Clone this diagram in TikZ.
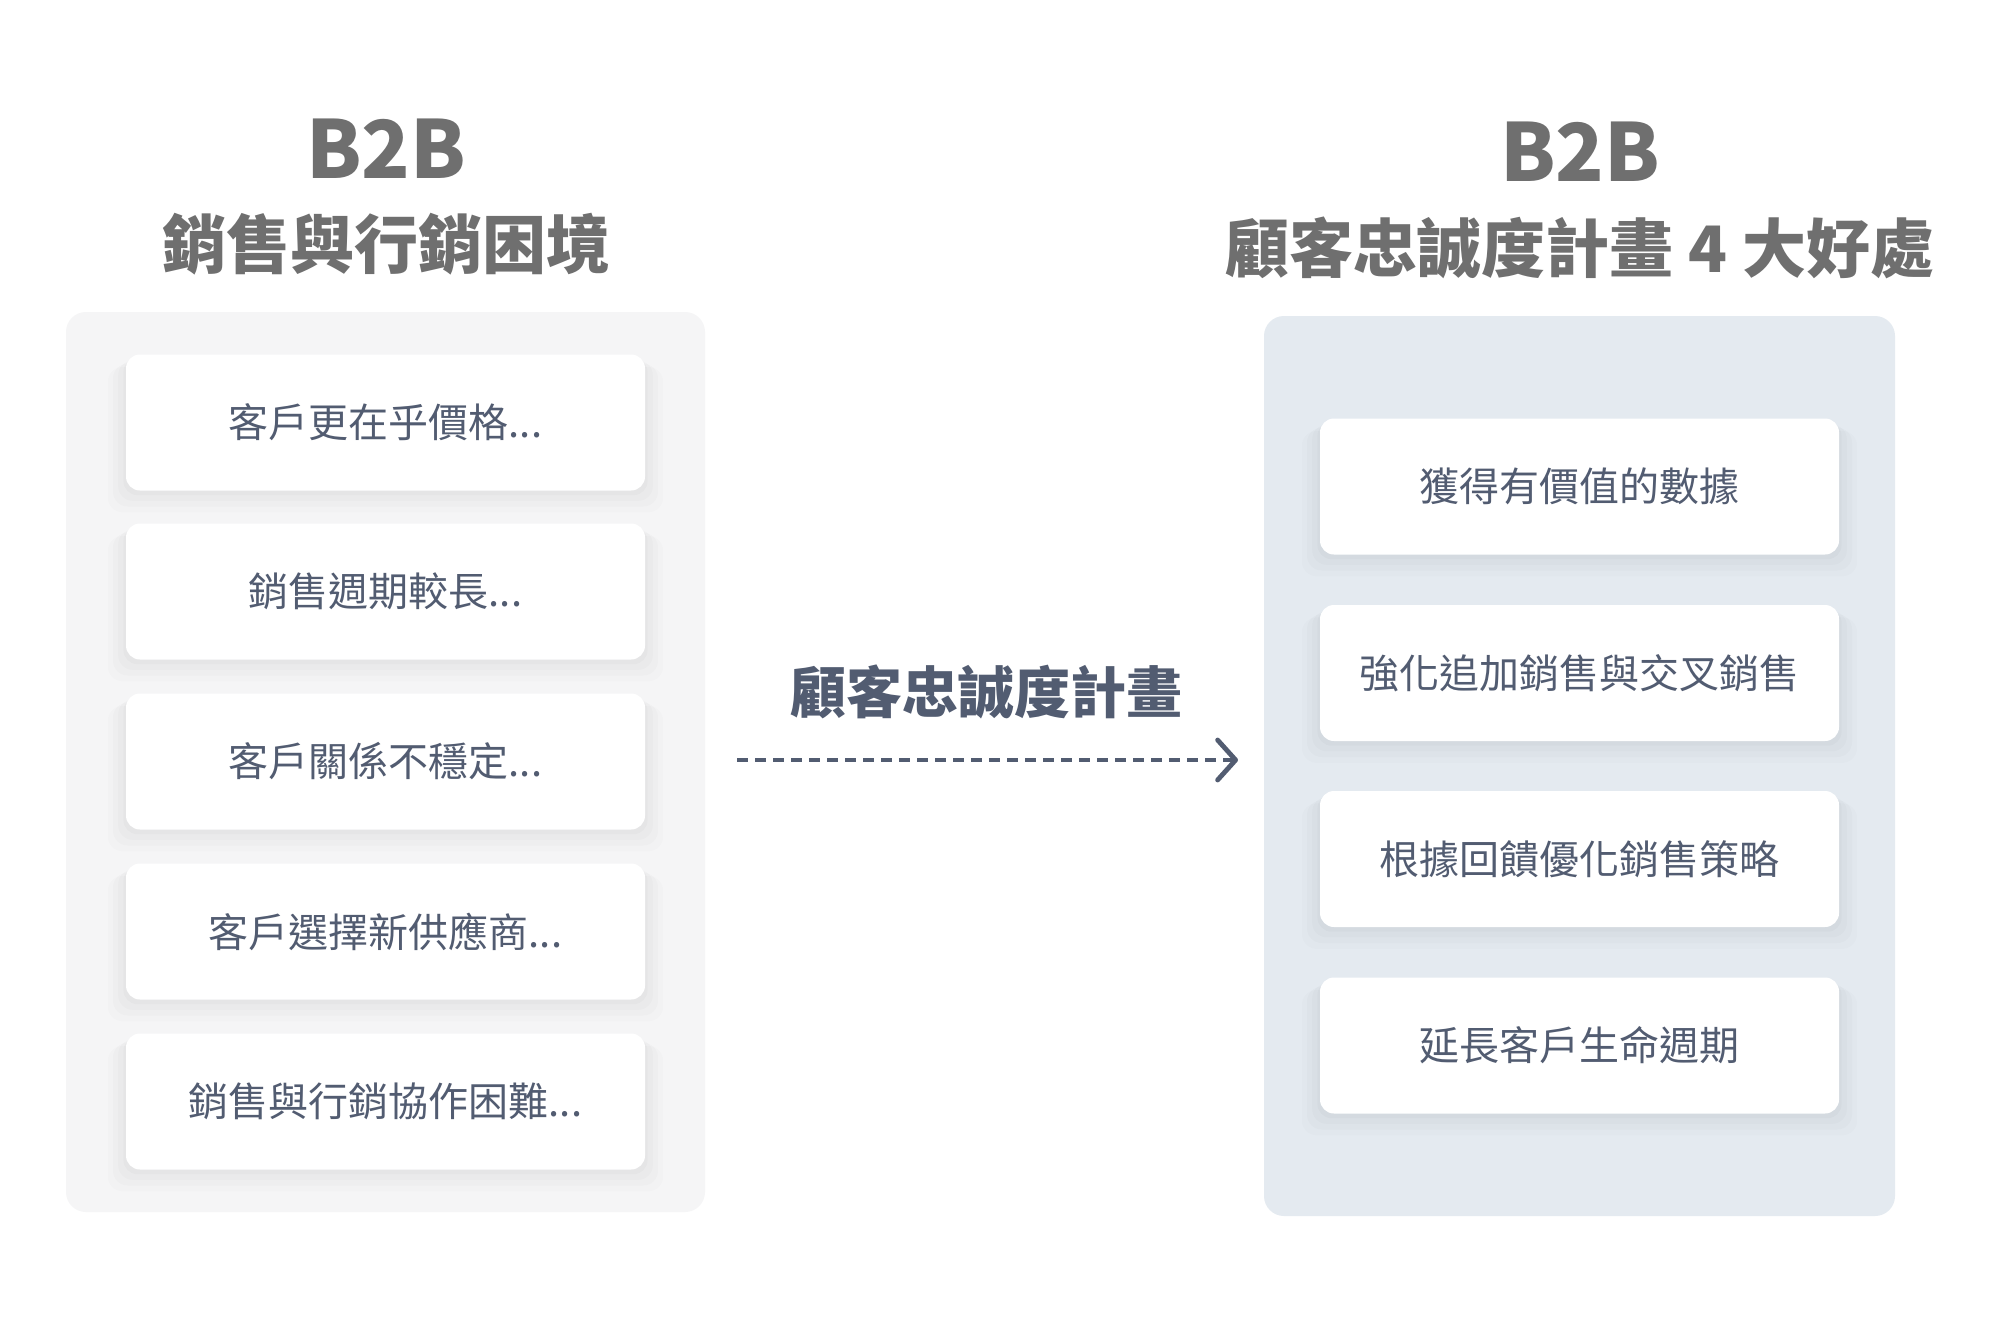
\documentclass[tikz,border=0pt]{standalone}
\usepackage{fontspec}
\setmainfont{Noto Sans CJK TC}
\usetikzlibrary{arrows.meta,shadows}
\definecolor{titlegray}{HTML}{6F6F6F}
\definecolor{slate}{HTML}{525C71}
\definecolor{leftpanel}{HTML}{F5F5F6}
\definecolor{rightpanel}{HTML}{E4EAF0}
\tikzset{
  panelbox/.style={rounded corners=10pt, inner sep=0pt, draw=none},
  itembox/.style={rounded corners=7pt, fill=white, draw=none, minimum width=259.5pt, minimum height=68pt, inner sep=0pt,
    font=\fontsize{20pt}{24pt}\selectfont, text=slate,
    general shadow={fill=black, opacity=0.012, shadow yshift=-8pt, shadow scale=1.07},
    general shadow={fill=black, opacity=0.014, shadow yshift=-6pt, shadow scale=1.05},
    general shadow={fill=black, opacity=0.016, shadow yshift=-4pt, shadow scale=1.03},
    general shadow={fill=black, opacity=0.018, shadow yshift=-2pt, shadow scale=1.01}},
  bigtitle/.style={font=\fontsize{40pt}{44pt}\selectfont\bfseries, text=titlegray, inner sep=0pt},
  subtitle/.style={font=\fontsize{32pt}{36pt}\selectfont\bfseries, text=titlegray, inner sep=0pt},
  midlabel/.style={font=\fontsize{28pt}{32pt}\selectfont\bfseries, text=slate, inner sep=0pt},
  flowarrow/.style={draw=slate, line width=2.4pt, dash pattern=on 5.5pt off 3.5pt,
    -{Straight Barb[length=9pt, width=20pt, line width=2.4pt, round]}}
}
\begin{document}
\begin{tikzpicture}[x=0.5pt, y=-0.5pt]
\useasboundingbox[fill=white] (0,0) rectangle (2000,1316);
% titles
\node[bigtitle] (lt1) at (386,149) {B2B};
\node[subtitle] (lt2) at (386,244) {銷售與行銷困境};
\node[bigtitle] (rt1) at (1580,152) {B2B};
\node[subtitle] (rt2) at (1580,248) {顧客忠誠度計畫 4 大好處};
% panels
\node[panelbox, fill=leftpanel, minimum width=319.5pt, minimum height=450pt] (lp) at (385.5,762) {};
\node[panelbox, fill=rightpanel, minimum width=315.5pt, minimum height=450pt] (rp) at (1579.5,766) {};
% left items
\node[itembox] (l1) at (385.5,422.5) {客戶更在乎價格...};
\node[itembox] (l2) at (385.5,591.5) {銷售週期較長...};
\node[itembox] (l3) at (385.5,761.5) {客戶關係不穩定...};
\node[itembox] (l4) at (385.5,931.5) {客戶選擇新供應商...};
\node[itembox] (l5) at (385.5,1101.5) {銷售與行銷協作困難...};
% right items
\node[itembox] (r1) at (1579.5,486.5) {獲得有價值的數據};
\node[itembox] (r2) at (1579.5,673) {強化追加銷售與交叉銷售};
\node[itembox] (r3) at (1579.5,859) {根據回饋優化銷售策略};
\node[itembox] (r4) at (1579.5,1045.5) {延長客戶生命週期};
% middle
\node[midlabel] (mid) at (986,692) {顧客忠誠度計畫};
\coordinate (as) at (737,760);
\coordinate (ae) at (1238,760);
\draw[flowarrow] (as) -- (ae);
\end{tikzpicture}
\end{document}
